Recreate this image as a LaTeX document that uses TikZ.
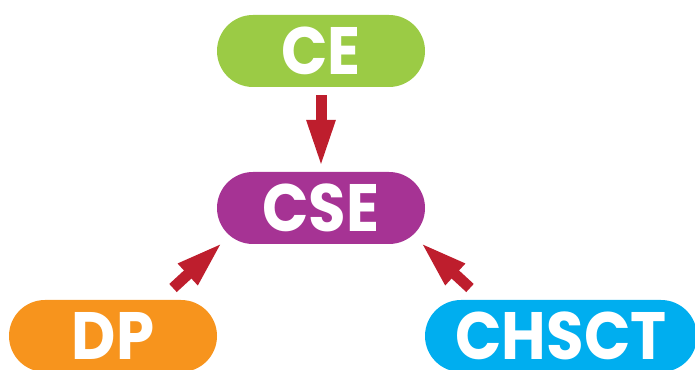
\documentclass[tikz,border=0pt]{standalone}
\usepackage{fontspec}
\setmainfont{Poppins}[UprightFont=* Bold, FakeStretch=0.91]
\usetikzlibrary{arrows.meta}
\definecolor{cegreen}{HTML}{9BCB45}
\definecolor{csepurple}{HTML}{A63394}
\definecolor{dporange}{HTML}{F7941D}
\definecolor{chblue}{HTML}{00AEEF}
\definecolor{arrred}{HTML}{BE1E2D}
\tikzset{
  pill/.style={rounded corners=36pt, minimum height=72pt, inner sep=0pt,
    text=white, font=\fontsize{67}{67}\selectfont, text height=47pt, text depth=0pt},
  arr/.style={draw=arrred, line width=11pt, -{Triangle[length=48pt,width=26pt]}}
}
\begin{document}
\begin{tikzpicture}[x=1pt,y=1pt]
\useasboundingbox (0,0) rectangle (695,369);
\clip (0,0) rectangle (695,369);
\node[pill, fill=cegreen, minimum width=208pt] (ce) at (321,318) {CE};
\node[pill, fill=csepurple, minimum width=208pt] (cse) at (321,161) {CSE};
\node[pill, fill=dporange, minimum width=208pt] (dp) at (113,33) {DP};
\node[pill, fill=chblue, minimum width=272pt] (chsct) at (561,33) {CHSCT};
\coordinate (dptail) at (173,81);
\coordinate (dptip) at (223,127);
\coordinate (chtail) at (470,81);
\coordinate (chtip) at (420,127);
\draw[arr, shorten <=8pt, shorten >=4pt] (ce.south) -- (cse.north);
\draw[arr] (dptail) -- (dptip);
\draw[arr] (chtail) -- (chtip);
\end{tikzpicture}
\end{document}
